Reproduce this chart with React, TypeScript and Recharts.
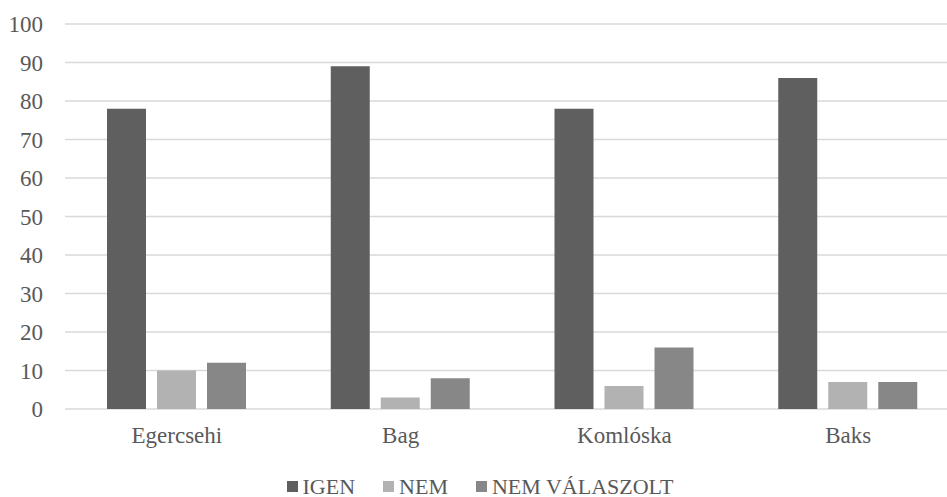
import { BarChart, Bar, XAxis, YAxis, CartesianGrid, Legend } from 'recharts';

const categories = ['Egercsehi', 'Bag', 'Komlóska', 'Baks'];
const igen = [78, 89, 78, 86];
const nem = [10, 3, 6, 7];
const nemValaszolt = [12, 8, 16, 7];
const yTicks = [0, 10, 20, 30, 40, 50, 60, 70, 80, 90, 100];

const SERIES = [
  { key: 'igen', name: 'IGEN', color: '#5f5f5f' },
  { key: 'nem', name: 'NEM', color: '#b2b2b2' },
  { key: 'nemValaszolt', name: 'NEM VÁLASZOLT', color: '#878787' },
];

const data = categories.map((name, i) => ({
  name,
  igen: igen[i],
  nem: nem[i],
  nemValaszolt: nemValaszolt[i],
}));

const FONT = 'Liberation Serif, DejaVu Serif, Times New Roman, Times, serif';
const TEXT = '#595959';
const axisStyle = { fontSize: 23, fill: TEXT, fontFamily: FONT };

function LegendBox() {
  return (
    <div style={{ height: 48, boxSizing: 'border-box', paddingTop: 26, display: 'flex', justifyContent: 'center' }}>
      {SERIES.map((s, i) => (
        <div
          key={s.key}
          style={{
            display: 'flex', alignItems: 'center', lineHeight: '23px',
            marginLeft: i ? 28 : 0, fontFamily: FONT, fontSize: 22, color: TEXT,
          }}
        >
          <div style={{ width: 11, height: 11, background: s.color, marginRight: 5 }} />
          <span>{s.name}</span>
        </div>
      ))}
    </div>
  );
}

export default function App() {
  return (
    <div style={{ position: 'absolute', left: 0, top: 0, width: 947, height: 497, overflow: 'hidden', background: '#fff', fontFamily: FONT }}>
      <BarChart
        width={960}
        height={497}
        data={data}
        margin={{ top: 24, right: 0, bottom: 0, left: 0 }}
        barSize={39}
        barGap={11}
        style={{ fontFamily: FONT }}
      >
        <CartesianGrid vertical={false} stroke="#d9d9d9" strokeWidth={1.5} />
        <XAxis
          dataKey="name"
          tick={axisStyle}
          axisLine={false}
          tickLine={false}
          tickSize={0}
          tickMargin={18}
          height={40}
        />
        <YAxis
          domain={[0, 100]}
          ticks={yTicks}
          tick={axisStyle}
          axisLine={false}
          tickLine={false}
          tickSize={0}
          tickMargin={22}
          width={65}
          interval={0}
        />
        <Legend verticalAlign="bottom" content={() => <LegendBox />} />
        {SERIES.map((s) => (
          <Bar key={s.key} dataKey={s.key} name={s.name} fill={s.color} isAnimationActive={false} />
        ))}
      </BarChart>
    </div>
  );
}
